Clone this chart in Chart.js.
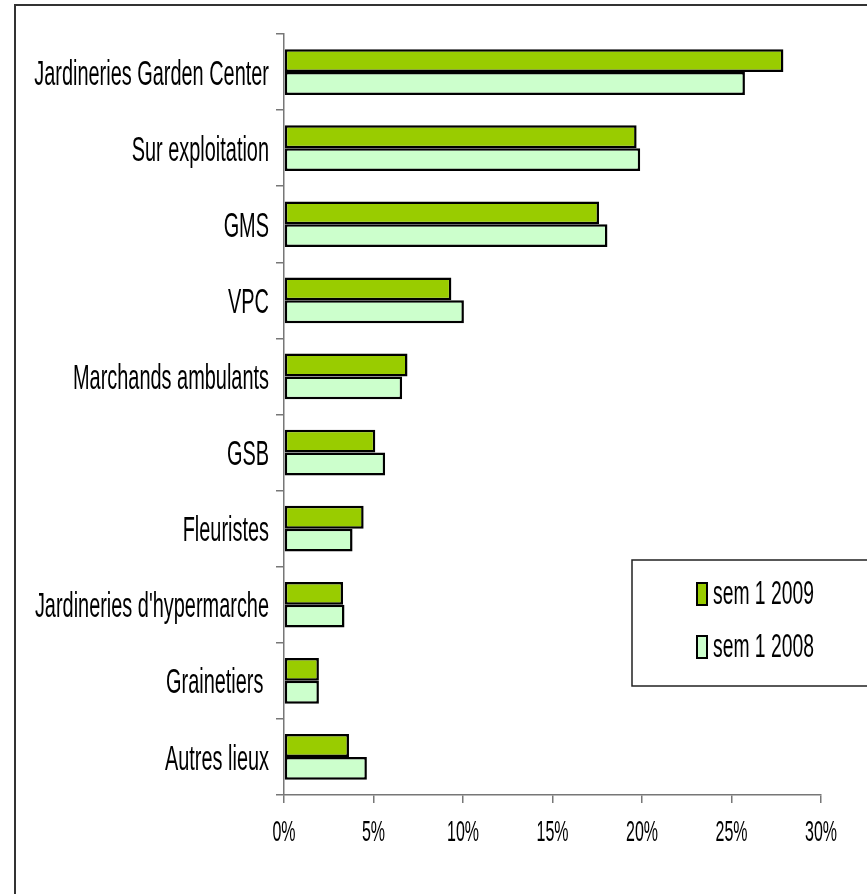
<!DOCTYPE html>
<html>
<head>
<meta charset="utf-8">
<script src="https://cdn.jsdelivr.net/npm/chart.js@4.4.1/dist/chart.umd.min.js"></script>
<style>
  html, body { margin: 0; padding: 0; background: #fff; }
  canvas { display: block; }
</style>
</head>
<body>
<canvas id="chart" width="867" height="894"></canvas>
<script>
var categories = ["Jardineries Garden Center", "Sur exploitation", "GMS", "VPC",
  "Marchands ambulants", "GSB", "Fleuristes", "Jardineries d'hypermarche",
  "Grainetiers ", "Autres lieux"];
var sem2009 = [27.9, 19.7, 17.6, 9.35, 6.9, 5.1, 4.45, 3.3, 1.95, 3.63];
var sem2008 = [25.75, 19.9, 18.07, 10.05, 6.6, 5.65, 3.83, 3.38, 1.95, 4.63];
var xTicks = [0, 5, 10, 15, 20, 25, 30];

var FONT = "'Liberation Sans', Arial, sans-serif";

// labels in the original are tall and narrow: squeeze x, stretch y
function stretchedText(ctx, text, x, y, size, sx, sy, align) {
  ctx.save();
  ctx.translate(x, y);
  ctx.scale(sx, sy);
  ctx.font = size + "px " + FONT;
  ctx.fillStyle = "#000";
  ctx.textAlign = align;
  ctx.textBaseline = "middle";
  ctx.fillText(text, 0, 0);
  ctx.restore();
}

var decor = {
  id: 'decor',
  afterDraw: function(chart) {
    var ctx = chart.ctx,
      xs = chart.scales.x,
      ys = chart.scales.y;

    // frame (only left and top are visible)
    ctx.save();
    ctx.strokeStyle = "#333";
    ctx.lineWidth = 2;
    ctx.beginPath();
    ctx.moveTo(15, 894);
    ctx.lineTo(15, 5);
    ctx.lineTo(867, 5);
    ctx.stroke();
    ctx.restore();

    categories.forEach(function(label, i) {
      stretchedText(ctx, label, 269, ys.getPixelForValue(i) + 3, 24, 0.83, 1.45, 'right');
    });

    xTicks.forEach(function(v) {
      stretchedText(ctx, v + "%", xs.getPixelForValue(v), 833, 20, 0.8, 1.5, 'center');
    });

    // legend box
    ctx.save();
    ctx.strokeStyle = "#222";
    ctx.lineWidth = 1.5;
    ctx.strokeRect(632, 560, 250, 126);
    chart.data.datasets.forEach(function(ds, i) {
      var cy = 594 + i * 53;
      ctx.fillStyle = ds.backgroundColor;
      ctx.fillRect(697, cy - 11, 10, 22);
      ctx.strokeStyle = "#000";
      ctx.lineWidth = 2;
      ctx.strokeRect(697, cy - 11, 10, 22);
      stretchedText(ctx, ds.label, 713, cy + 1, 23, 0.84, 1.42, 'left');
    });
    ctx.restore();
  }
};

var ctx = document.getElementById("chart").getContext("2d");
var chart = new Chart(ctx, {
  type: 'bar',
  data: {
    labels: categories,
    datasets: [{
      label: "sem 1 2009",
      data: sem2009,
      backgroundColor: "#99CC00",
      borderColor: "#000",
      borderWidth: 2.5,
      borderSkipped: false
    }, {
      label: "sem 1 2008",
      data: sem2008,
      backgroundColor: "#CCFFCC",
      borderColor: "#000",
      borderWidth: 2.5,
      borderSkipped: false
    }]
  },
  options: {
    indexAxis: 'y',
    responsive: false,
    animation: false,
    devicePixelRatio: 1,
    categoryPercentage: 0.6,
    barPercentage: 1.0,
    layout: { padding: { top: 34, right: 46, left: 0, bottom: 0 } },
    plugins: {
      legend: { display: false },
      tooltip: { enabled: false }
    },
    scales: {
      x: {
        min: 0,
        max: 30,
        ticks: { stepSize: 5, display: false },
        grid: { drawOnChartArea: false, tickLength: 8, color: "#777", lineWidth: 1.5 },
        border: { color: "#777", width: 1.5 },
        afterFit: function(scale) { scale.height = 99; }
      },
      y: {
        ticks: { display: false },
        grid: { drawOnChartArea: false, tickLength: 8, color: "#777", lineWidth: 1.5, offset: true },
        border: { color: "#777", width: 1.5 },
        afterFit: function(scale) { scale.width = 284; }
      }
    }
  },
  plugins: [decor]
});
</script>
</body>
</html>
